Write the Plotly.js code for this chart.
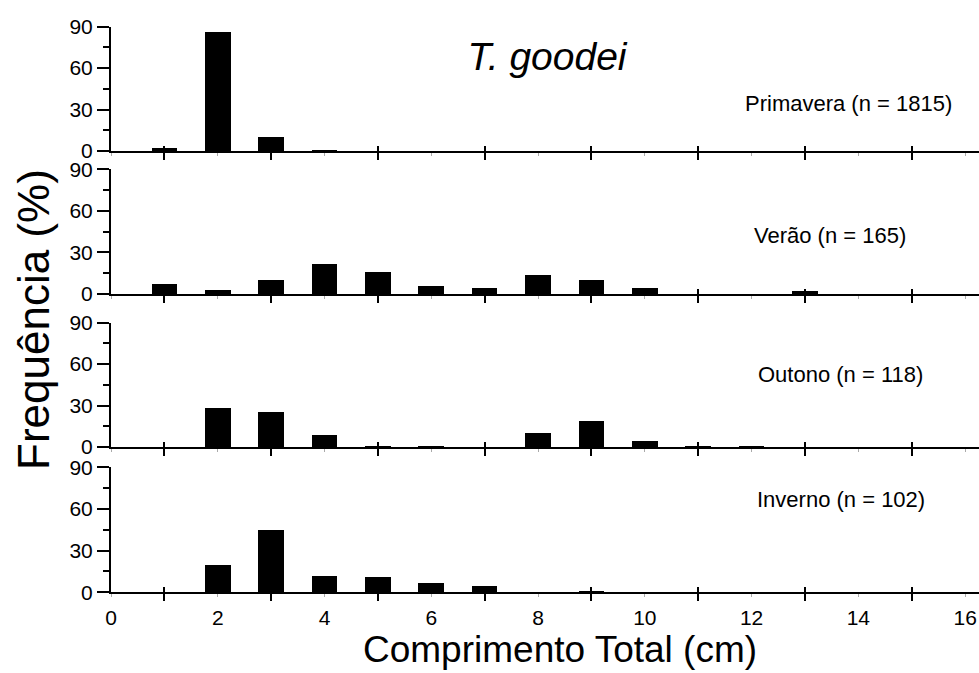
<!DOCTYPE html>
<html><head><meta charset="utf-8">
<script src="https://cdn.plot.ly/plotly-3.0.1.min.js"></script>
<style>html,body{margin:0;padding:0;background:#fff}#chart{width:979px;height:673px}</style>
</head><body><div id="chart"></div>
<script>
// Data (frequency % by total length class, cm)
const primaveraX = [1, 2, 3, 4];
const primaveraY = [2, 86, 10.5, 0.5];
const veraoX = [1, 2, 3, 4, 5, 6, 7, 8, 9, 10, 13];
const veraoY = [7, 3, 10, 22, 16, 6, 4, 14, 10, 4, 2];
const outonoX = [2, 3, 4, 5, 6, 8, 9, 10, 11, 12];
const outonoY = [28.5, 25, 8.5, 0.8, 0.6, 10, 19, 4, 0.5, 0.5];
const invernoX = [2, 3, 4, 5, 6, 7, 9];
const invernoY = [20, 44.5, 12, 11, 7, 4.5, 1];
const seasonLabels = ['Primavera (n = 1815)', 'Verão (n = 165)', 'Outono (n = 118)', 'Inverno (n = 102)'];
const xLabelVals = [0, 2, 4, 6, 8, 10, 12, 14, 16];
const xLabelText = ['0', '2', '4', '6', '8', '10', '12', '14', '16'];
const xOddTicks = [1, 3, 5, 7, 9, 11, 13, 15];
const yTickVals = [0, 30, 60, 90];
const yTickText = ['0', '30', '60', '90'];
const yMinorVals = [15, 45, 75];
const chartTitle = '<i>T. goodei</i>';
const xTitle = 'Comprimento Total (cm)';
const yTitle = 'Frequência (%)';

const seriesX = [primaveraX, veraoX, outonoX, invernoX];
const seriesY = [primaveraY, veraoY, outonoY, invernoY];

const W = 979, H = 673;
// panel pixel bounds [top, bottom]
const panelPx = [[26.7, 151], [169.3, 294], [322.7, 447], [467.3, 592.3]];
const labelPos = [[848, 103], [830, 236], [840, 374], [841, 499]];
const xDomain = [111 / W, 1];
const xRange = [0, 16.26];
const FONT = '"Liberation Sans", Arial, sans-serif';

const traces = [];
const layout = {
  width: W, height: H,
  margin: {l: 0, r: 0, t: 0, b: 0},
  paper_bgcolor: '#fff', plot_bgcolor: 'rgba(0,0,0,0)',
  showlegend: false,
  font: {family: FONT, color: '#000', size: 20},
  bargap: 0,
  title: {text: chartTitle, x: 547 / W, y: 1 - 56 / H, xanchor: 'center', yanchor: 'middle',
          font: {family: FONT, size: 39, color: '#000'}},
  annotations: []
};

for (let i = 0; i < 4; i++) {
  const n = i + 1;
  const xa = n === 1 ? 'x' : 'x' + n;
  const ya = n === 1 ? 'y' : 'y' + n;
  traces.push({type: 'bar', x: seriesX[i], y: seriesY[i], xaxis: xa, yaxis: ya,
    width: 0.48, marker: {color: '#000', line: {width: 0}}, hoverinfo: 'x+y'});
  const dom = [1 - panelPx[i][1] / H, 1 - panelPx[i][0] / H];
  const xKey = n === 1 ? 'xaxis' : 'xaxis' + n;
  const yKey = n === 1 ? 'yaxis' : 'yaxis' + n;
  layout[xKey] = {
    domain: xDomain, range: xRange, anchor: ya,
    showline: true, linewidth: 2, linecolor: '#000',
    tickmode: 'array', tickvals: xLabelVals, ticktext: xLabelText,
    ticks: 'outside', ticklen: 3, tickwidth: 1, tickcolor: '#aaa',
    showticklabels: n === 4, ticklabelstandoff: 2,
    tickfont: {family: FONT, size: 21, color: '#000'},
    minor: {tickmode: 'array', tickvals: xOddTicks, ticks: 'outside', ticklen: 7, tickwidth: 2, tickcolor: '#000', showgrid: false},
    showgrid: false, zeroline: false, fixedrange: true
  };
  // overlay axis: upper half of odd ticks (crossing the axis line)
  layout['xaxis' + (n + 4)] = {
    overlaying: xa, anchor: ya, range: xRange,
    tickmode: 'array', tickvals: xOddTicks, ticks: 'inside', ticklen: 5, tickwidth: 2, tickcolor: '#000',
    showticklabels: false, showline: false, showgrid: false, zeroline: false, fixedrange: true
  };
  traces.push({type: 'scatter', x: [], y: [], xaxis: 'x' + (n + 4), yaxis: ya, hoverinfo: 'skip'});
  layout[yKey] = {
    domain: dom, range: [0, 90], anchor: xa,
    showline: true, linewidth: 2, linecolor: '#000',
    tickmode: 'array', tickvals: yTickVals, ticktext: yTickText,
    ticks: 'outside', ticklen: 12, tickwidth: 2, tickcolor: '#000',
    minor: {tickmode: 'array', tickvals: yMinorVals, ticks: 'outside', ticklen: 6, tickwidth: 2, tickcolor: '#000', showgrid: false},
    tickfont: {family: FONT, size: 21, color: '#000'},
    showgrid: false, zeroline: false, fixedrange: true
  };
  layout.annotations.push({text: seasonLabels[i], xref: 'paper', yref: 'paper',
    x: labelPos[i][0] / W, y: 1 - labelPos[i][1] / H, xanchor: 'center', yanchor: 'middle',
    showarrow: false, font: {family: FONT, size: 22, color: '#000'}});
}

layout.annotations.push({text: yTitle, xref: 'paper', yref: 'paper', x: 33 / W, y: 1 - 320 / H,
  xanchor: 'center', yanchor: 'middle', textangle: -90, showarrow: false,
  font: {family: FONT, size: 44, color: '#000'}});
layout.annotations.push({text: xTitle, xref: 'paper', yref: 'paper', x: 560 / W, y: 1 - 649 / H,
  xanchor: 'center', yanchor: 'middle', showarrow: false,
  font: {family: FONT, size: 37, color: '#000'}});

Plotly.newPlot('chart', traces, layout, {displayModeBar: false, staticPlot: true});
</script>
</body></html>
